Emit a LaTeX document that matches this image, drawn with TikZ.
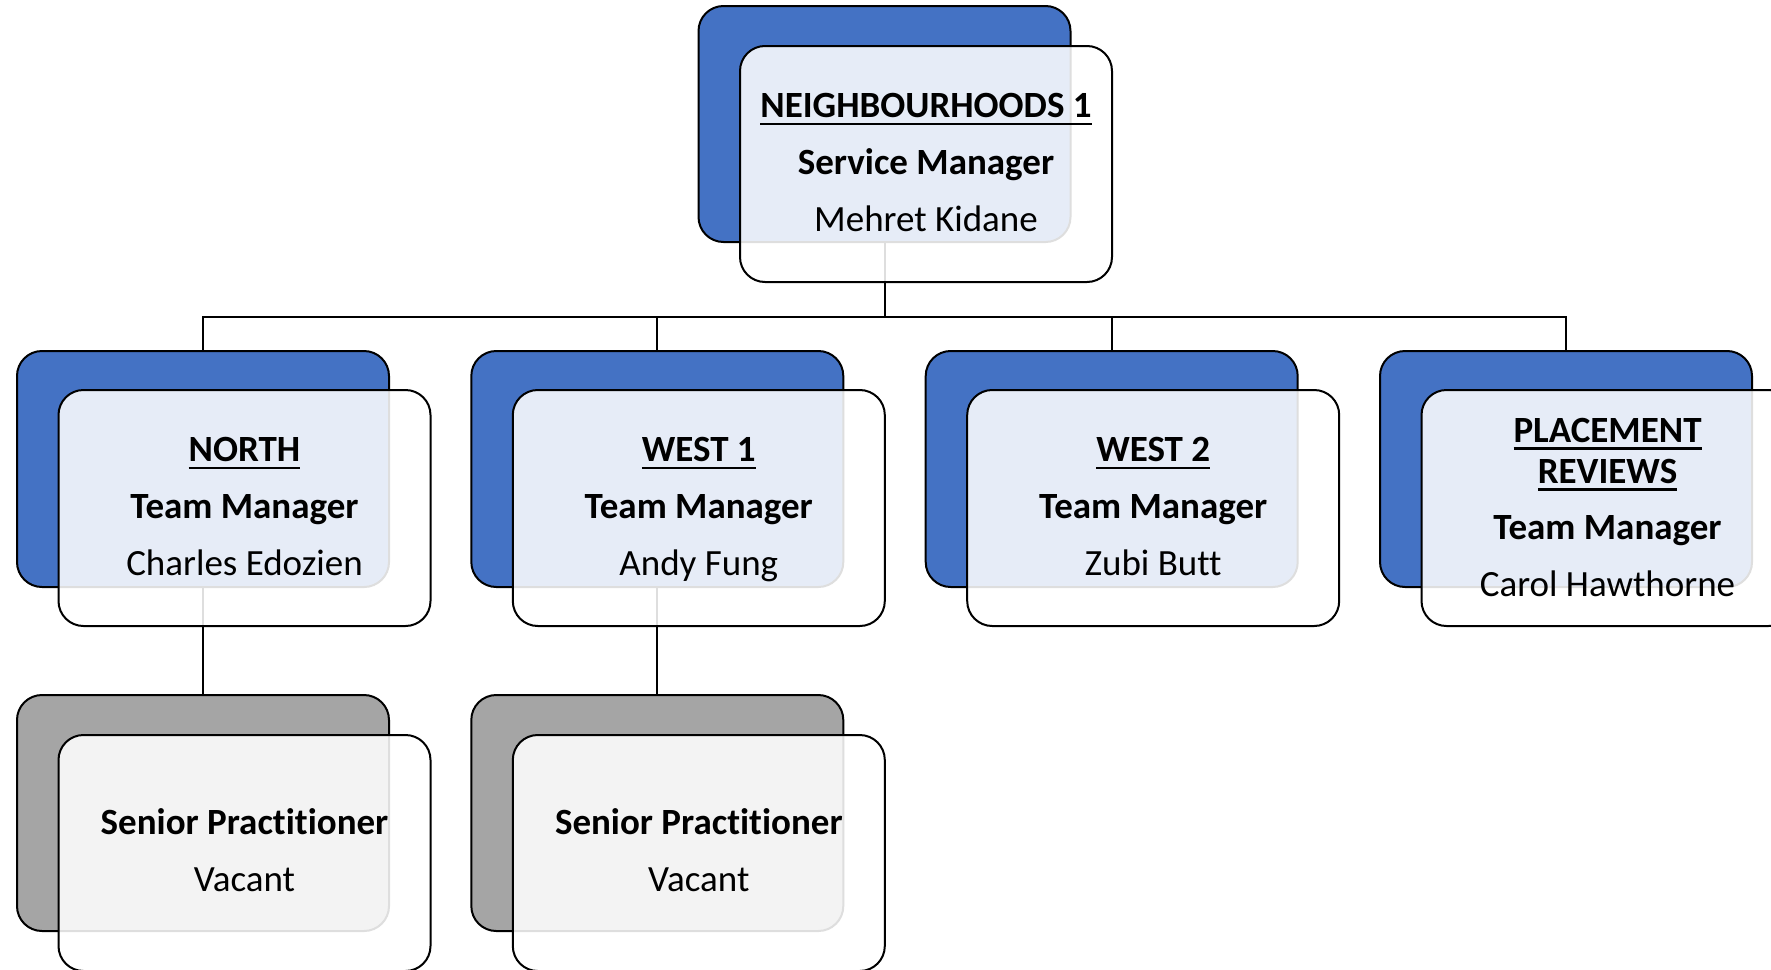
\documentclass[tikz,border=0pt]{standalone}
\usepackage{fontspec}
\setmainfont{Carlito}[Ligatures=NoCommon]
\usetikzlibrary{calc}
\definecolor{bblue}{HTML}{4472C4}
\definecolor{bgray}{HTML}{A5A5A5}
\newcommand\ulbox[1]{\setbox0\hbox{#1}\rlap{\rule[-7.5pt]{\wd0}{2.3pt}}\box0}
\newcommand\threeline[4]{%
  \node[ttl] (#1a) at ($(#1.center)+(0,-46.5)$) {\ulbox{#2}};
  \node[ttl] (#1b) at ($(#1.center)+(0,10)$) {#3};
  \node[nm]  (#1c) at ($(#1.center)+(0,67)$) {#4};}
\begin{document}
\begin{tikzpicture}[x=1pt,y=-1pt,
  back/.style={draw=black, line width=2pt, rounded corners=25pt, minimum width=372pt, minimum height=236pt, inner sep=0pt},
  tmback/.style={back, fill=bblue},
  spback/.style={back, fill=bgray},
  front/.style={draw=black, line width=2pt, rounded corners=25pt, minimum width=372pt, minimum height=236pt, fill=white, fill opacity=0.87, draw opacity=1, inner sep=0pt},
  conn/.style={draw=black, line width=2pt},
  ttl/.style={font=\fontsize{37}{41}\selectfont\bfseries, anchor=base, inner sep=0pt},
  nm/.style={font=\fontsize{37}{41}\selectfont, anchor=base, inner sep=0pt}]
\useasboundingbox (0,0) rectangle (1771,969);
\clip (0,0) rectangle (1771,969);

% back boxes
\node[tmback] (b0) at (884.5,124) {};
\node[tmback] (b1) at (203,469) {};
\node[tmback] (b2) at (657.3,469) {};
\node[tmback] (b3) at (1111.7,469) {};
\node[tmback] (b4) at (1566,469) {};
\node[spback] (c1) at (203,813) {};
\node[spback] (c2) at (657.3,813) {};

% connectors
\draw[conn] (b0.south) -- ++(0,74) coordinate (hub);
\draw[conn] (b1.north) |- (hub) -| (b4.north);
\draw[conn] (b2.north) -- (b2.north |- hub);
\draw[conn] (b3.north) -- (b3.north |- hub);
\draw[conn] (b1.south) -- (c1.north);
\draw[conn] (b2.south) -- (c2.north);

% front boxes
\node[front] (f0) at ($(b0.center)+(41.5,40)$) {};
\node[front] (f1) at ($(b1.center)+(41.5,39)$) {};
\node[front] (f2) at ($(b2.center)+(41.5,39)$) {};
\node[front] (f3) at ($(b3.center)+(41.5,39)$) {};
\node[front] (f4) at ($(b4.center)+(41.5,39)$) {};
\node[front] (g1) at ($(c1.center)+(41.5,40)$) {};
\node[front] (g2) at ($(c2.center)+(41.5,40)$) {};

% texts
\threeline{f0}{NEIGHBOURHOODS 1}{Service Manager}{Mehret Kidane}
\threeline{f1}{NORTH}{Team Manager}{Charles Edozien}
\threeline{f2}{WEST 1}{Team Manager}{Andy Fung}
\threeline{f3}{WEST 2}{Team Manager}{Zubi Butt}
\node[ttl] (f4a) at ($(f4.center)+(0,-66)$) {\ulbox{PLACEMENT}};
\node[ttl] (f4b) at ($(f4.center)+(0,-25)$) {\ulbox{REVIEWS}};
\node[ttl] (f4c) at ($(f4.center)+(0,31)$) {Team Manager};
\node[nm]  (f4d) at ($(f4.center)+(0,88)$) {Carol Hawthorne};
\node[ttl] (g1a) at ($(g1.center)+(0,-19)$) {Senior Practitioner};
\node[nm]  (g1b) at ($(g1.center)+(0,38)$) {Vacant};
\node[ttl] (g2a) at ($(g2.center)+(0,-19)$) {Senior Practitioner};
\node[nm]  (g2b) at ($(g2.center)+(0,38)$) {Vacant};
\end{tikzpicture}
\end{document}
